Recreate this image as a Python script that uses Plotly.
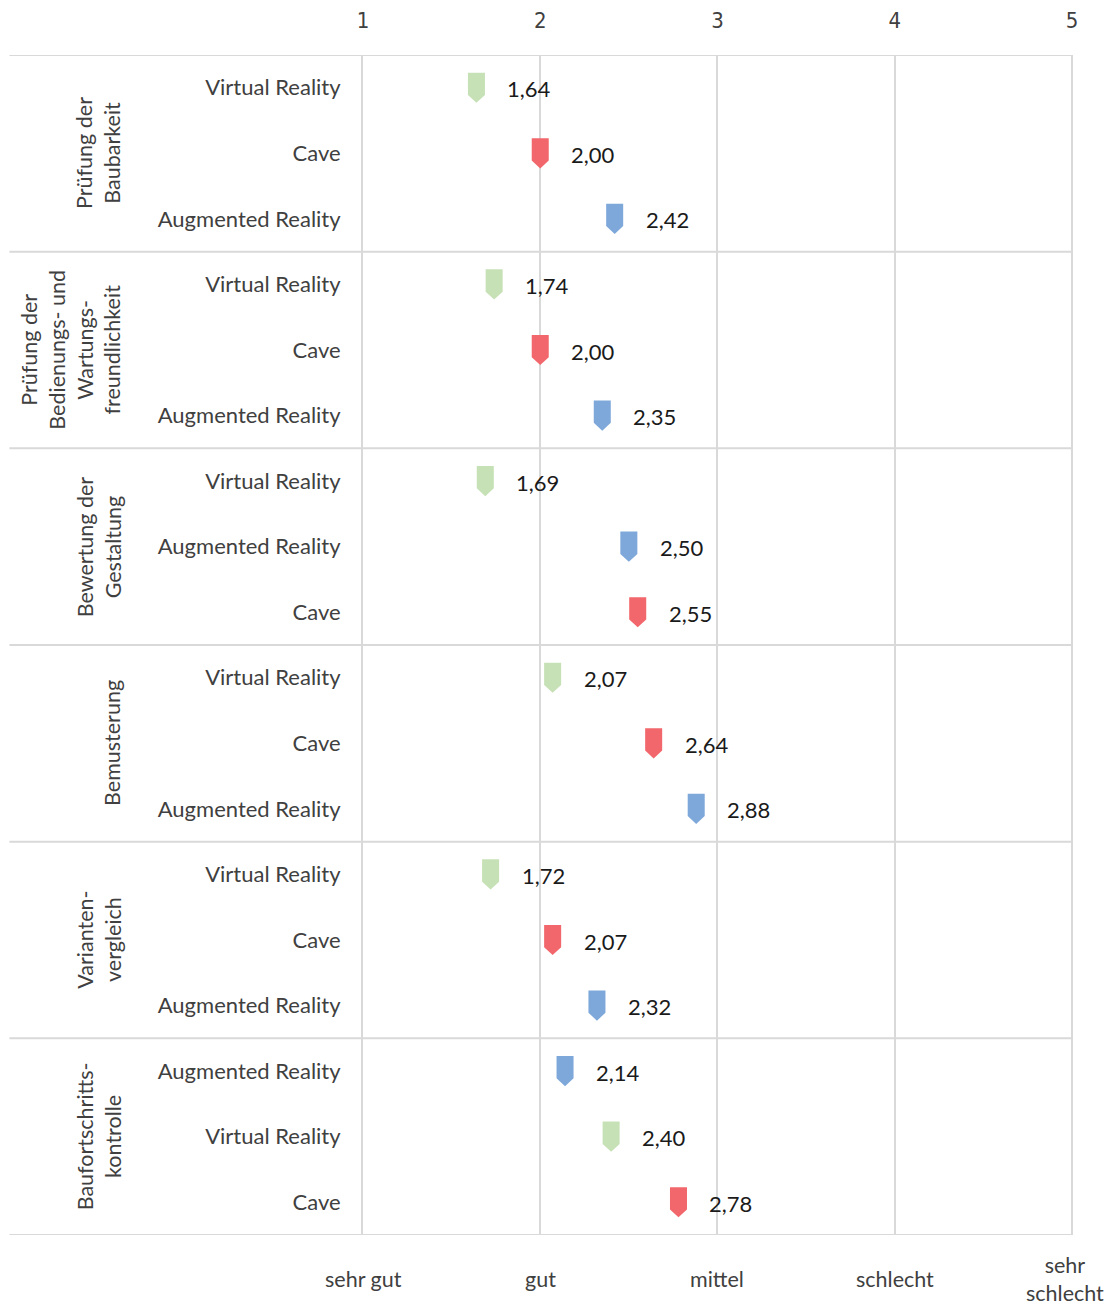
import plotly.graph_objects as go

# Survey results: mean rating per technology within each use case (1 = sehr gut ... 5 = sehr schlecht)
groups = [
    "Prüfung der<br>Baubarkeit",
    "Prüfung der<br>Bedienungs- und<br>Wartungs-<br>freundlichkeit",
    "Bewertung der<br>Gestaltung",
    "Bemusterung",
    "Varianten-<br>vergleich",
    "Baufortschritts-<br>kontrolle",
]
row_labels = [
    ["Virtual Reality", "Cave", "Augmented Reality"],
    ["Virtual Reality", "Cave", "Augmented Reality"],
    ["Virtual Reality", "Augmented Reality", "Cave"],
    ["Virtual Reality", "Cave", "Augmented Reality"],
    ["Virtual Reality", "Cave", "Augmented Reality"],
    ["Augmented Reality", "Virtual Reality", "Cave"],
]
row_values = [
    [1.64, 2.00, 2.42],
    [1.74, 2.00, 2.35],
    [1.69, 2.50, 2.55],
    [2.07, 2.64, 2.88],
    [1.72, 2.07, 2.32],
    [2.14, 2.40, 2.78],
]
scale_ticks = [1, 2, 3, 4, 5]
scale_words = ["sehr gut", "gut", "mittel", "schlecht", "sehr<br>schlecht"]

colors = {
    "Virtual Reality": "#C7E1B6",
    "Cave": "#F2676B",
    "Augmented Reality": "#7EA8DA",
}

FONT = "Lato"
TEXT = "#404040"

# flatten rows: row index i is the y position (axis reversed)
labels, values = [], []
for labs, vals in zip(row_labels, row_values):
    labels += labs
    values += vals
n_rows = len(labels)
ypos = list(range(n_rows))

fig = go.Figure()

# bookmark-shaped markers (rectangle with a downward tip), one trace per technology
hw = 0.048            # half width in rating units
top, mid, tip = -0.23, 0.11, 0.23  # offsets in row units
for tech, col in colors.items():
    xs, ys = [], []
    for y, lab, v in zip(ypos, labels, values):
        if lab != tech:
            continue
        xs += [v - hw, v + hw, v + hw, v, v - hw, v - hw, None]
        ys += [y + top, y + top, y + mid, y + tip, y + mid, y + top, None]
    fig.add_trace(go.Scatter(
        x=xs, y=ys, mode="lines", fill="toself", fillcolor=col,
        line=dict(width=0, color=col), hoverinfo="skip", showlegend=False,
    ))

# value labels
for y, v in zip(ypos, values):
    fig.add_annotation(
        x=v, y=y, xref="x", yref="y", text=f"{v:.2f}".replace(".", ","),
        showarrow=False, xanchor="left", yanchor="middle", xshift=29, yshift=-1,
        font=dict(family=FONT, size=22, color="#1a1a1a"),
    )

# group separators spanning label area and plot
per = 3
for k in range(len(groups) + 1):
    yb = k * per - 0.5
    fig.add_shape(type="line", xref="paper", yref="y", x0=-0.498, x1=1.0,
                  y0=yb, y1=yb, line=dict(color="#D9D9D9", width=2), layer="below")

# group titles (rotated)
for k, g in enumerate(groups):
    fig.add_annotation(
        x=-0.3315, y=k * per + 1, xref="paper", yref="y", text=g,
        textangle=-90, showarrow=False, xanchor="right", yanchor="middle",
        align="center", font=dict(family=FONT, size=21.5, color=TEXT),
    )

# verbal scale below the plot
for t, w in zip(scale_ticks, scale_words):
    fig.add_annotation(
        x=t, y=-0.037, xref="x", yref="paper", text=w, showarrow=False,
        xanchor="center", yanchor="middle", xshift=-7 if t == 5 else 0,
        font=dict(family=FONT, size=21.5, color=TEXT),
    )

fig.update_layout(
    width=1114, height=1306,
    margin=dict(l=363, r=41, t=55, b=71),
    plot_bgcolor="white", paper_bgcolor="white",
    showlegend=False,
    xaxis=dict(
        range=[1, 5.006], side="top", tickvals=scale_ticks,
        ticktext=[str(t) for t in scale_ticks], automargin=False,
        showgrid=True, gridcolor="#D9D9D9", gridwidth=2,
        zeroline=False, showline=False, ticks="", ticklabelstandoff=22,
        tickfont=dict(family="DejaVu Sans Condensed, Lato", size=22, color=TEXT),
    ),
    yaxis=dict(
        range=[n_rows - 0.5, -0.5], tickvals=ypos, ticktext=labels,
        automargin=False,
        showgrid=False, zeroline=False, showline=True, linecolor="#D9D9D9",
        linewidth=2, ticks="", ticklabelstandoff=16,
        tickfont=dict(family=FONT, size=22, color=TEXT),
    ),
)

fig.write_html("out.html")
